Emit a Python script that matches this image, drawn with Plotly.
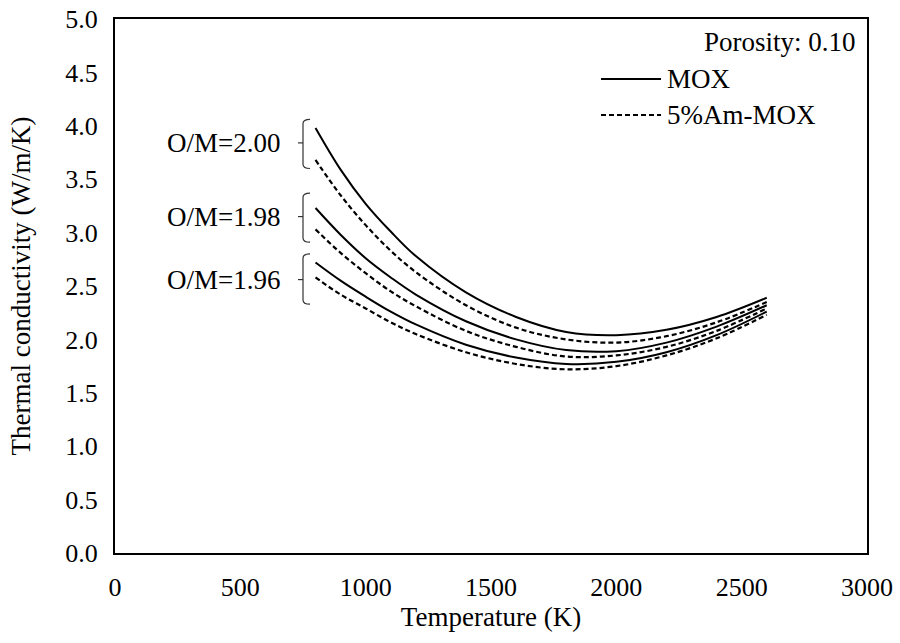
import plotly.graph_objects as go

# Temperature grid (K)
temperature = [800, 900, 1000, 1100, 1200, 1400, 1600, 1800, 2000, 2200, 2400, 2600]

# Thermal conductivity (W/m/K)
mox_200 = [3.98, 3.59, 3.27, 3.01, 2.78, 2.44, 2.21, 2.07, 2.04, 2.09, 2.21, 2.39]
am_200 = [3.68, 3.35, 3.07, 2.83, 2.63, 2.32, 2.11, 2.00, 1.97, 2.03, 2.16, 2.35]
mox_198 = [3.23, 2.98, 2.76, 2.58, 2.42, 2.17, 2.00, 1.90, 1.89, 1.97, 2.12, 2.32]
am_198 = [3.03, 2.81, 2.62, 2.45, 2.31, 2.08, 1.93, 1.84, 1.85, 1.93, 2.08, 2.29]
mox_196 = [2.72, 2.55, 2.40, 2.26, 2.14, 1.95, 1.83, 1.77, 1.79, 1.88, 2.04, 2.26]
am_196 = [2.58, 2.42, 2.29, 2.16, 2.05, 1.88, 1.77, 1.72, 1.75, 1.85, 2.01, 2.23]

om_labels = ["O/M=2.00", "O/M=1.98", "O/M=1.96"]
series_names = ["MOX", "5%Am-MOX"]

FONT = "Liberation Serif"
FS = 27
TFS = 26

fig = go.Figure()

pairs = [(mox_200, am_200), (mox_198, am_198), (mox_196, am_196)]
for i, (m, a) in enumerate(pairs):
    fig.add_trace(go.Scatter(x=temperature, y=m, mode="lines", name=f"MOX {om_labels[i]}",
                             line=dict(color="black", width=2, shape="spline", smoothing=1.0),
                             showlegend=False))
    fig.add_trace(go.Scatter(x=temperature, y=a, mode="lines", name=f"5%Am-MOX {om_labels[i]}",
                             line=dict(color="black", width=2.2, dash="5px,3px", shape="spline", smoothing=1.0),
                             showlegend=False))

W, H = 900, 643
L, R, T, B = 115, 33, 19, 90
pw, ph = W - L - R, H - T - B
def px(x):
    return (x - L) / pw
def py(y):
    return (H - B - y) / ph

shapes = []
annotations = []

# Brackets grouping each O/M pair (data coordinates)
brackets = [(4.06, 3.84, 3.60), (3.37, 3.15, 2.91), (2.80, 2.56, 2.33)]
for (top, mid, bot), lab in zip(brackets, om_labels):
    shapes.append(dict(type="path", xref="x", yref="y",
                       path=f"M 778,{top} Q 750,{top} 750,{top-0.04} L 750,{bot+0.04} Q 750,{bot} 778,{bot}",
                       line=dict(color="#333", width=1.2)))
    shapes.append(dict(type="line", xref="x", yref="y", x0=730, x1=750, y0=mid, y1=mid,
                       line=dict(color="#333", width=1.2)))
    annotations.append(dict(x=665, y=mid, xref="x", yref="y", text=lab, showarrow=False,
                            xanchor="right", yanchor="middle", font=dict(family=FONT, size=FS, color="black")))

annotations.append(dict(x=px(858), y=py(42), xref="paper", yref="paper", text="Porosity: 0.10", showarrow=False,
                        xanchor="right", yanchor="middle", font=dict(family=FONT, size=FS, color="black")))
leg_y = [79, 115]
for name, yy, dash in zip(series_names, leg_y, ["solid", "5px,3px"]):
    shapes.append(dict(type="line", xref="paper", yref="paper", x0=px(601), x1=px(661), y0=py(yy), y1=py(yy),
                       line=dict(color="black", width=2, dash=dash)))
    annotations.append(dict(x=px(665), y=py(yy), xref="paper", yref="paper", text=name, showarrow=False,
                            xanchor="left", yanchor="middle", font=dict(family=FONT, size=FS, color="black")))

fig.update_layout(
    width=W, height=H,
    margin=dict(l=L, r=R, t=T, b=B, autoexpand=False),
    paper_bgcolor="white", plot_bgcolor="white",
    font=dict(family=FONT, size=FS, color="black"),
    showlegend=False,
    shapes=shapes, annotations=annotations,
)

fig.update_xaxes(range=[0, 3000], dtick=500, tick0=0, showgrid=False, zeroline=False,
                 showline=True, linecolor="black", linewidth=2, mirror=True, ticks="",
                 automargin=False,
                 tickfont=dict(family=FONT, size=TFS, color="black"),
                 ticklabelstandoff=10,
                 title=dict(text="Temperature (K)", font=dict(family=FONT, size=FS, color="black"), standoff=6))
fig.update_yaxes(range=[0, 5], dtick=0.5, tick0=0, tickformat=".1f", showgrid=False, zeroline=False,
                 showline=True, linecolor="black", linewidth=2, mirror=True, ticks="",
                 automargin=False,
                 tickfont=dict(family=FONT, size=TFS, color="black"),
                 ticklabelstandoff=10,
                 title=dict(text="Thermal conductivity (W/m/K)", font=dict(family=FONT, size=FS, color="black"), standoff=27))

fig.write_html("out.html")
